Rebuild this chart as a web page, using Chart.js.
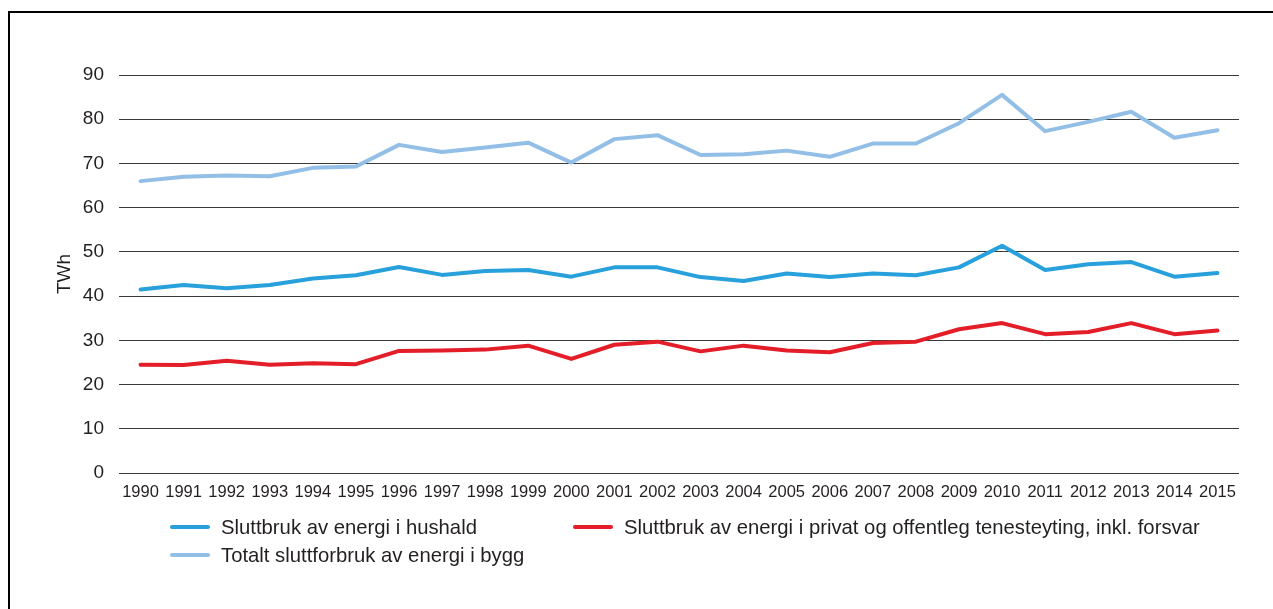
<!DOCTYPE html>
<html>
<head>
<meta charset="utf-8">
<script src="https://cdn.jsdelivr.net/npm/chart.js@4.4.1/dist/chart.umd.min.js"></script>
<style>
  html, body { margin: 0; padding: 0; background: #fff; }
  body { width: 1273px; height: 609px; position: relative; overflow: hidden;
         font-family: "Liberation Sans", Arial, sans-serif; color: #231f20; }
  #frame { position: absolute; left: 8px; top: 11px; right: -4px; bottom: -4px;
           border-left: 2px solid #000; border-top: 2px solid #000; }
  #chart { position: absolute; left: 0; top: 0; }
  .leg { position: absolute; height: 24px; font-size: 20.3px; line-height: 24px; white-space: nowrap; }
  .leg .sw { position: absolute; left: 0; top: 10px; width: 40px; height: 4px; border-radius: 2px; }
  .leg .tx { position: absolute; left: 51px; top: 0; }
</style>
</head>
<body>
<div id="frame"></div>
<canvas id="chart" width="1273" height="609"></canvas>
<div id="legend"></div>
<script>
// Energy end use in buildings, TWh per year
const years = ['1990','1991','1992','1993','1994','1995','1996','1997','1998','1999','2000','2001','2002',
               '2003','2004','2005','2006','2007','2008','2009','2010','2011','2012','2013','2014','2015'];

const hushald = [41.5, 42.5, 41.8, 42.5, 44.0, 44.7, 46.6, 44.8, 45.7, 45.9, 44.4, 46.5, 46.5,
                 44.3, 43.4, 45.1, 44.3, 45.1, 44.7, 46.5, 51.4, 45.9, 47.2, 47.7, 44.4, 45.2];

const tenesteyting = [24.5, 24.4, 25.4, 24.5, 24.8, 24.6, 27.6, 27.7, 27.9, 28.8, 25.8, 29.0, 29.7,
                      27.5, 28.8, 27.7, 27.3, 29.4, 29.7, 32.5, 33.9, 31.4, 31.9, 33.9, 31.4, 32.2];

const totalt = [66.0, 67.0, 67.3, 67.1, 69.0, 69.3, 74.2, 72.6, 73.6, 74.7, 70.2, 75.5, 76.4,
                71.9, 72.1, 72.9, 71.5, 74.5, 74.5, 79.1, 85.5, 77.3, 79.4, 81.7, 75.8, 77.5];

const yTicks = [0, 10, 20, 30, 40, 50, 60, 70, 80, 90];

const labelHushald = 'Sluttbruk av energi i hushald';
const labelTeneste = 'Sluttbruk av energi i privat og offentleg tenesteyting, inkl. forsvar';
const labelTotalt = 'Totalt sluttforbruk av energi i bygg';
const unitLabel = 'TWh';

const FONT = '"Liberation Sans", Arial, sans-serif';
const TEXT = '#231f20';

const datasets = [
  { label: labelHushald, data: hushald, borderColor: '#27a0db' },
  { label: labelTeneste, data: tenesteyting, borderColor: '#e31e28' },
  { label: labelTotalt, data: totalt, borderColor: '#93bfe7' }
].map(d => Object.assign(d, {
  borderWidth: 4, pointRadius: 0, tension: 0, fill: false,
  borderCapStyle: 'round', borderJoinStyle: 'round'
}));

new Chart(document.getElementById('chart'), {
  type: 'line',
  data: { labels: years, datasets },
  options: {
    responsive: false,
    animation: false,
    layout: { padding: { left: 0, right: 34, top: 75, bottom: 0 } },
    plugins: { legend: { display: false }, tooltip: { enabled: false } },
    scales: {
      x: {
        offset: true,
        grid: { display: false, drawTicks: false },
        border: { display: false },
        ticks: { color: TEXT, font: { family: FONT, size: 16.5 }, padding: 10,
                 maxRotation: 0, autoSkip: false },
        afterFit(s) { s.height = 136; }
      },
      y: {
        min: 0, max: 90,
        afterBuildTicks(s) { s.ticks = yTicks.map(v => ({ value: v })); },
        grid: { color: '#3a3a3a', lineWidth: 1, drawTicks: false },
        border: { display: false },
        ticks: { color: TEXT, font: { family: FONT, size: 19 }, padding: 15 },
        title: { display: true, text: unitLabel, color: TEXT,
                 font: { family: FONT, size: 19 }, padding: { top: 53, bottom: 0 } },
        afterFit(s) { s.width = 119; }
      }
    }
  }
});

// Legend in two columns beneath the plot
const legendPos = [
  { ds: 0, left: 170, top: 515 },
  { ds: 1, left: 573, top: 515 },
  { ds: 2, left: 170, top: 543 }
];
const legend = document.getElementById('legend');
legendPos.forEach(p => {
  const d = datasets[p.ds];
  const item = document.createElement('div');
  item.className = 'leg';
  item.style.left = p.left + 'px';
  item.style.top = p.top + 'px';
  const sw = document.createElement('span');
  sw.className = 'sw';
  sw.style.background = d.borderColor;
  const tx = document.createElement('span');
  tx.className = 'tx';
  tx.textContent = d.label;
  item.appendChild(sw);
  item.appendChild(tx);
  legend.appendChild(item);
});
</script>
</body>
</html>
